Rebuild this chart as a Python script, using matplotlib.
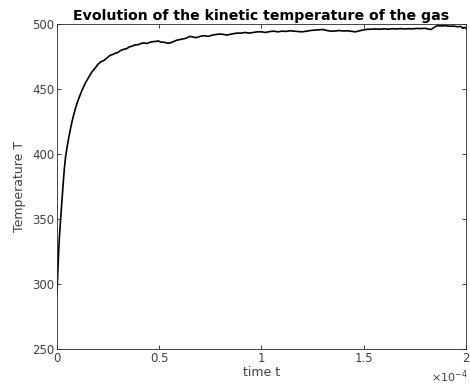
import numpy as np
import matplotlib.pyplot as plt

# time in units of 1e-4 s, temperature
t_scaled = [0.000, 0.004, 0.008, 0.012, 0.016, 0.020, 0.025, 0.030, 0.036, 0.042,
            0.050, 0.058, 0.068, 0.078, 0.090, 0.100, 0.112, 0.125, 0.140, 0.155,
            0.170, 0.186, 0.200, 0.215, 0.230, 0.245, 0.260, 0.272, 0.284, 0.296,
            0.310, 0.325, 0.340, 0.355, 0.370, 0.380, 0.395, 0.410, 0.425, 0.440,
            0.455, 0.470, 0.480, 0.495, 0.510, 0.525, 0.540, 0.555, 0.570, 0.585,
            0.600, 0.615, 0.630, 0.650, 0.665, 0.680, 0.700, 0.720, 0.740, 0.760,
            0.780, 0.800, 0.815, 0.830, 0.845, 0.860, 0.880, 0.900, 0.920, 0.940,
            0.960, 0.980, 1.000, 1.020, 1.040, 1.060, 1.080, 1.100, 1.120, 1.140,
            1.160, 1.180, 1.200, 1.220, 1.240, 1.260, 1.280, 1.300, 1.320, 1.340,
            1.360, 1.380, 1.400, 1.420, 1.440, 1.460, 1.480, 1.500, 1.520, 1.540,
            1.555, 1.580, 1.600, 1.620, 1.640, 1.660, 1.680, 1.700, 1.720, 1.740,
            1.760, 1.780, 1.800, 1.815, 1.830, 1.845, 1.860, 1.880, 1.900, 1.920,
            1.940, 1.960, 1.975, 1.985, 1.993, 2.000]
temperature = [293, 310, 325, 337, 346, 355, 366, 377, 389, 398,
               406, 413, 421, 428, 435, 440, 445, 450, 455, 459,
               463, 466, 469, 471, 472, 474, 476, 476.5, 477.5, 478,
               479.5, 480.5, 481, 482.5, 483, 484, 484, 485, 485.5, 485,
               486, 486.5, 486.5, 487, 486, 486, 485.2, 485.5, 486.5, 487.5,
               488, 488.5, 489, 490.5, 490, 489.5, 490.5, 491, 490.5, 491.5,
               492, 492.3, 492, 491.5, 492, 492.5, 493, 493, 493.5, 493,
               493.5, 494, 494, 493.5, 494.2, 494.5, 494, 494.5, 494.3, 494.8,
               494.5, 494.2, 494, 494.5, 495, 495.3, 495.5, 495.8, 495, 494.5,
               494.6, 495, 494.6, 494.8, 494.4, 494, 494.8, 495.5, 496, 496,
               496.2, 496, 496.3, 496, 496.4, 496.2, 496.5, 496.2, 496.4, 496.3,
               496.6, 496.5, 496.7, 496.2, 495.8, 497.5, 498.7, 498.5, 498.7, 498.3,
               498.4, 497.9, 498.2, 496.7, 497.5, 496.5]

t = np.array(t_scaled) * 1e-4

fig = plt.figure(figsize=(4.7, 3.88), dpi=100)
ax = fig.add_axes([0.1213, 0.1005, 0.870, 0.8376])

ax.plot(t, temperature, color='black', lw=1.2)

ax.set_xlim(0, 2e-4)
ax.set_ylim(250, 500)
ax.set_xticks(np.array([0, 0.5, 1, 1.5, 2]) * 1e-4)
ax.set_xticklabels(['0', '0.5', '1', '1.5', '2'])
ax.set_yticks([250, 300, 350, 400, 450, 500])

axis_grey = '#262626'
for s in ax.spines.values():
    s.set_color(axis_grey)
    s.set_linewidth(0.6)
ax.tick_params(direction='in', length=3, width=0.6, colors=axis_grey,
               labelcolor='#404040', labelsize=8.5, top=True, right=True, pad=2)

ax.set_xlabel('time t', fontsize=9, color='#404040', labelpad=1)
ax.set_ylabel('Temperature T', fontsize=9, color='#404040', labelpad=4)
ax.set_title('Evolution of the kinetic temperature of the gas',
             fontsize=10.2, fontweight='bold', color='black', pad=3)

fig.text(0.995, 0.008, r'$\times\mathregular{10^{-4}}$', ha='right', va='bottom',
         fontsize=8, color='#404040')

fig.savefig('out.png', dpi=100)
